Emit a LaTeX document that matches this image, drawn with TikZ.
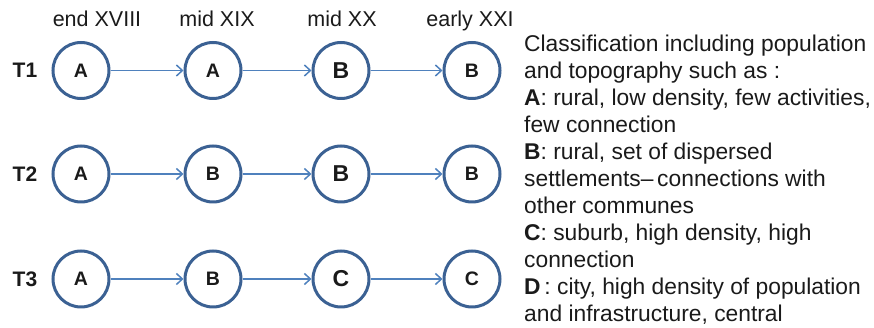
\documentclass[tikz,border=0pt]{standalone}
\usepackage{fontspec}
\setmainfont{Liberation Sans}
\usetikzlibrary{arrows.meta}
\definecolor{ringblue}{HTML}{3B6193}
\definecolor{linkblue}{HTML}{4F81BD}
\definecolor{ink}{HTML}{1A1A1A}
\begin{document}
\begin{tikzpicture}[x=1pt,y=1pt,
  state/.style={circle,draw=ringblue,line width=3pt,minimum size=56pt,inner sep=0pt,
    text=ink,font=\fontsize{19.5}{20}\selectfont\bfseries},
  bigstate/.style={state,font=\fontsize{23}{24}\selectfont\bfseries},
  link/.style={draw=linkblue,line width=1.5pt,-{Straight Barb[length=6pt,width=11pt]}},
  rowlabel/.style={text=ink,font=\fontsize{21}{22}\selectfont\bfseries,inner sep=0pt},
  period/.style={text=ink,font=\fontsize{21.5}{23}\selectfont,inner sep=0pt,anchor=base},
  legend/.style={text=ink,font=\fontsize{22.8}{27}\selectfont,align=left,inner sep=0pt,anchor=base west}
]
\useasboundingbox (0,0) rectangle (874,328);

% period headings
\node[period] (h1) at (97,301) {end XVIII};
\node[period] (h2) at (217,301) {mid XIX};
\node[period] (h3) at (342,301) {mid XX};
\node[period] (h4) at (470,301) {early XXI};

% trajectory labels
\node[rowlabel] (t1) at (25,257.5) {T1};
\node[rowlabel] (t2) at (25,154) {T2};
\node[rowlabel] (t3) at (25,49) {T3};

% trajectory T1
\node[state] (a1) at (81,257.5) {A};
\node[state] (a2) at (213,257.5) {A};
\node[bigstate] (a3) at (341,257.5) {B};
\node[state] (a4) at (472,257.5) {B};
% trajectory T2
\node[state] (b1) at (81,154) {A};
\node[state] (b2) at (213,154) {B};
\node[bigstate] (b3) at (341,154) {B};
\node[state] (b4) at (472,154) {B};
% trajectory T3
\node[state] (c1) at (81,49) {A};
\node[state] (c2) at (213,49) {B};
\node[bigstate] (c3) at (341,49) {C};
\node[state] (c4) at (472,49) {C};

\foreach \r in {a,b,c}{
  \draw[link] (\r1) -- (\r2);
  \draw[link] (\r2) -- (\r3);
  \draw[link] (\r3) -- (\r4);
}

% classification key (anchored at the baseline of its last line)
\node[legend] (key) at (524,6) {Classification including population\\
and topography such as :\\
\textbf{A}: rural, low density, few activities,\\
few connection\\
\textbf{B}: rural, set of dispersed\\
settlements–\,connections with\\
other communes\\
\textbf{C}: suburb, high density, high\\
connection\\
\textbf{D}\,: city, high density of population\\
and infrastructure, central};
\end{tikzpicture}
\end{document}
